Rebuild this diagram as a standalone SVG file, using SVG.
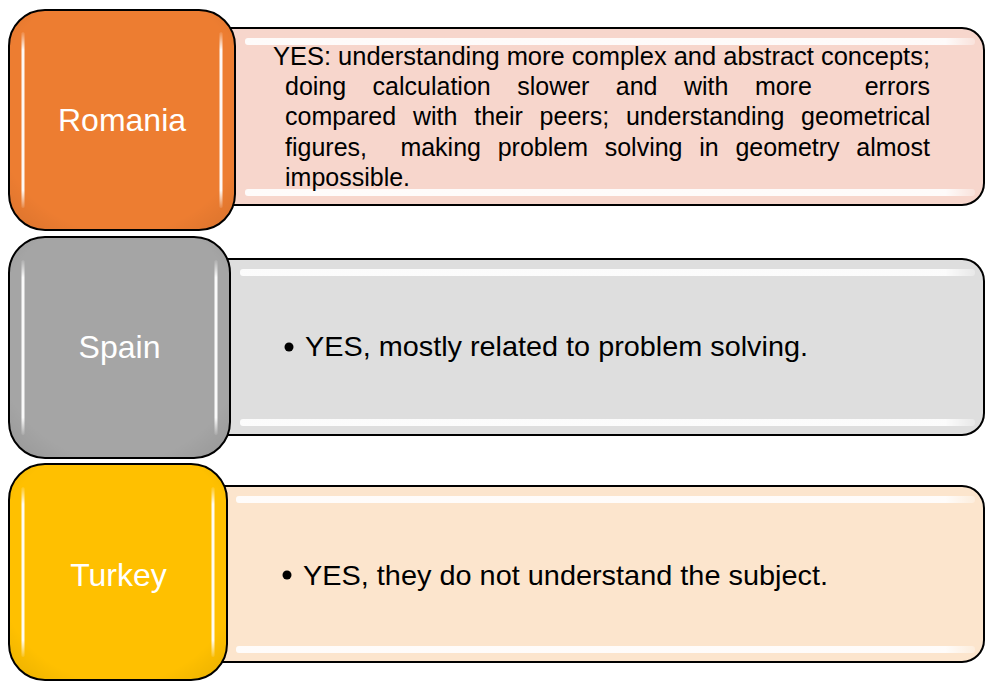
<svg xmlns="http://www.w3.org/2000/svg" width="986" height="682" viewBox="0 0 986 682">
  <style>
    .lbl { font-family: "Liberation Sans", Arial, sans-serif; font-size: 32px; fill: #ffffff; text-anchor: middle; }
    .txt { font-family: "Liberation Sans", Arial, sans-serif; font-size: 25px; fill: #000000; }
    .big { font-family: "Liberation Sans", Arial, sans-serif; font-size: 28px; fill: #000000; }
    .box { stroke: #000000; stroke-width: 2; }
    .panel { stroke: #000000; stroke-width: 2; }
    .vhl { fill: url(#vgl); }
    .hhl { fill: url(#hgl); }
  </style>
  <defs>
    <linearGradient id="vgl" x1="0" y1="0" x2="0" y2="1">
      <stop offset="0" stop-color="#ffffff" stop-opacity="0.1"/>
      <stop offset="0.1" stop-color="#ffffff" stop-opacity="0.95"/>
      <stop offset="0.9" stop-color="#ffffff" stop-opacity="0.95"/>
      <stop offset="1" stop-color="#ffffff" stop-opacity="0.1"/>
    </linearGradient>
    <linearGradient id="hgl" x1="0" y1="0" x2="1" y2="0">
      <stop offset="0" stop-color="#ffffff" stop-opacity="0.9"/>
      <stop offset="0.96" stop-color="#ffffff" stop-opacity="0.9"/>
      <stop offset="1" stop-color="#ffffff" stop-opacity="0.3"/>
    </linearGradient>
    <radialGradient id="shade" cx="0.5" cy="0.45" r="0.72">
      <stop offset="0.78" stop-color="#000000" stop-opacity="0"/>
      <stop offset="1" stop-color="#000000" stop-opacity="0.08"/>
    </radialGradient>
  </defs>

  <g id="connectors"/>

  <!-- Romania -->
  <g id="romania-panel">
    <rect class="panel" x="200" y="28" width="784" height="177" rx="22" fill="#F7D6CC"/>
    <rect class="hhl" x="245" y="38" width="730" height="7" rx="3"/>
    <rect class="hhl" x="245" y="189" width="730" height="7" rx="3"/>
    <text class="txt" x="273" y="65" textLength="657" lengthAdjust="spacingAndGlyphs">YES: understanding more complex and abstract concepts;</text>
    <text class="txt" y="94.5">
      <tspan x="285">doing</tspan><tspan x="372.6">calculation</tspan><tspan x="517.2">slower</tspan><tspan x="615.8">and</tspan><tspan x="684">with</tspan><tspan x="754.9">more</tspan><tspan x="864.7">errors</tspan>
    </text>
    <text class="txt" y="125">
      <tspan x="285">compared</tspan><tspan x="413">with</tspan><tspan x="474.2">their</tspan><tspan x="539.6">peers;</tspan><tspan x="625.9">understanding</tspan><tspan x="801.1">geometrical</tspan>
    </text>
    <text class="txt" y="155.5">
      <tspan x="285">figures,</tspan><tspan x="400.4">making</tspan><tspan x="497.7">problem</tspan><tspan x="604.7">solving</tspan><tspan x="699.2">in</tspan><tspan x="735.4">geometry</tspan><tspan x="856.3">almost</tspan>
    </text>
    <text class="txt" x="285" y="186">impossible.</text>
  </g>
  <g id="romania">
    <rect class="box" x="9" y="10" width="226" height="220" rx="36" fill="#ED7D31"/>
    <rect x="9" y="10" width="226" height="220" rx="36" fill="url(#shade)"/>
    <rect class="vhl" x="21.5" y="32" width="3" height="176" rx="1.5"/>
    <rect class="vhl" x="219.5" y="32" width="3" height="176" rx="1.5"/>
    <text class="lbl" x="122" y="131">Romania</text>
  </g>

  <!-- Spain -->
  <g id="spain-panel">
    <rect class="panel" x="200" y="259" width="784" height="176" rx="22" fill="#DEDEDE"/>
    <rect class="hhl" x="240" y="269" width="735" height="7" rx="3"/>
    <rect class="hhl" x="240" y="419" width="735" height="7" rx="3"/>
    <circle cx="289" cy="347" r="4.5" fill="#000000"/>
    <text class="big" x="305" y="356" textLength="503" lengthAdjust="spacingAndGlyphs">YES, mostly related to problem solving.</text>
  </g>
  <g id="spain">
    <rect class="box" x="9" y="237" width="221" height="221" rx="36" fill="#A5A5A5"/>
    <rect x="9" y="237" width="221" height="221" rx="36" fill="url(#shade)"/>
    <rect class="vhl" x="21.5" y="260" width="3" height="175" rx="1.5"/>
    <rect class="vhl" x="214.5" y="260" width="3" height="175" rx="1.5"/>
    <text class="lbl" x="119.5" y="358">Spain</text>
  </g>

  <!-- Turkey -->
  <g id="turkey-panel">
    <rect class="panel" x="200" y="486" width="784" height="176" rx="22" fill="#FCE5CD"/>
    <rect class="hhl" x="236" y="496" width="739" height="7" rx="3"/>
    <rect class="hhl" x="236" y="646" width="739" height="7" rx="3"/>
    <circle cx="287" cy="575" r="4.5" fill="#000000"/>
    <text class="big" x="303" y="585" textLength="525" lengthAdjust="spacingAndGlyphs">YES, they do not understand the subject.</text>
  </g>
  <g id="turkey">
    <rect class="box" x="9" y="464" width="218" height="216" rx="36" fill="#FFC000"/>
    <rect x="9" y="464" width="218" height="216" rx="36" fill="url(#shade)"/>
    <rect class="vhl" x="21.5" y="487" width="3" height="170" rx="1.5"/>
    <rect class="vhl" x="211.5" y="487" width="3" height="170" rx="1.5"/>
    <text class="lbl" x="118.5" y="586">Turkey</text>
  </g>
</svg>
